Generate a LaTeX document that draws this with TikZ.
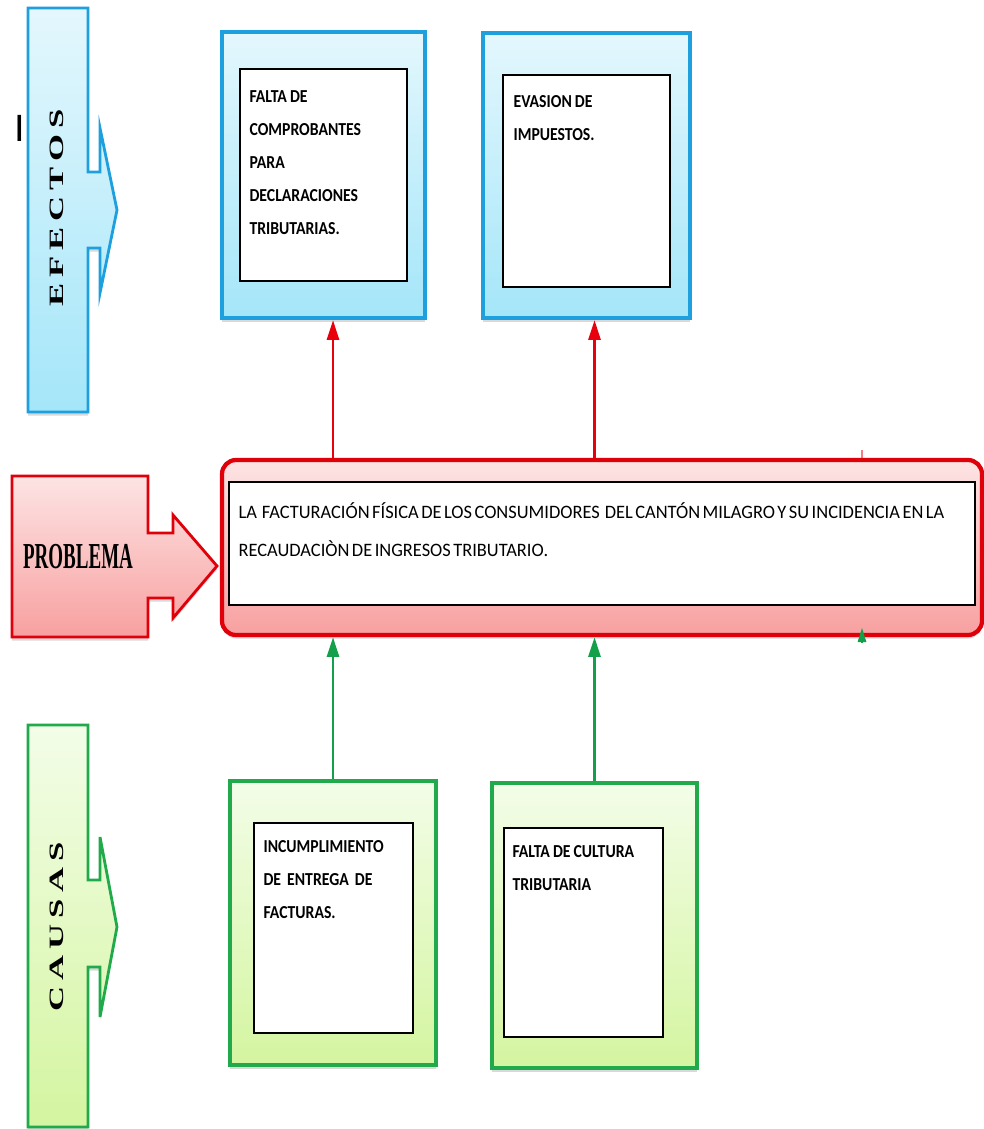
\documentclass[tikz,border=0pt]{standalone}
\usepackage{fontspec}
\usetikzlibrary{arrows.meta,positioning,shadows}
\newfontfamily\boxfont[FakeStretch=0.86,WordSpace=0.85]{Carlito}
\newfontfamily\probtextfont[FakeStretch=0.97,WordSpace=0.6]{Carlito}
\newfontfamily\sidefont[FakeStretch=1.7,LetterSpace=30]{Liberation Serif}
\newfontfamily\probfont[FakeStretch=0.52]{Liberation Serif}
\newfontfamily\markfont{Liberation Sans}
\newcommand{\pxu}{0.025cm}
\definecolor{efline}{RGB}{30,160,222}
\definecolor{eftop}{RGB}{228,247,253}
\definecolor{efbot}{RGB}{164,230,249}
\definecolor{prline}{RGB}{224,0,10}
\definecolor{prtop}{RGB}{253,228,228}
\definecolor{prbot}{RGB}{248,160,160}
\definecolor{caline}{RGB}{32,170,75}
\definecolor{catop}{RGB}{243,253,232}
\definecolor{cabot}{RGB}{212,245,160}
\definecolor{arrred}{RGB}{232,0,12}
\definecolor{arrgreen}{RGB}{20,160,75}

\begin{document}
\begin{tikzpicture}[x = \pxu, y = -\pxu,
    shade/.style = {drop shadow = {opacity = 0.3, shadow xshift = 0pt, shadow yshift = -2.5pt}},
    efbox/.style = {rectangle, draw = efline, line width = 3pt, top color = eftop, bottom color = efbot, inner sep = 0pt, shade},
    cabox/.style = {rectangle, draw = caline, line width = 3pt, top color = catop, bottom color = cabot, inner sep = 0pt, shade},
    prbox/.style = {rectangle, rounded corners = 10pt, draw = prline, line width = 3pt, top color = prtop, bottom color = prbot, inner sep = 0pt, shade},
    inbox/.style = {rectangle, draw = black, line width = 1pt, fill = white, inner sep = 0pt},
    boxtext/.style = {inner sep = 0pt, align = flush left, font = \boxfont\bfseries\fontsize{13}{23.5}\selectfont},
    sidelabel/.style = {inner sep = 0pt, font = \sidefont\bfseries\fontsize{14.5}{14.5}\selectfont},
    redup/.style = {draw = arrred, line width = 2pt, -{Triangle[length = 14pt, width = 8.5pt]}},
    greenup/.style = {draw = arrgreen, line width = 2pt, -{Triangle[length = 14pt, width = 8.5pt]}}]
  \useasboundingbox (0,0) rectangle (984,1129);

  \path[efbox, line width = 2pt] (28,8) -- (88,8) -- (88,172) -- (100,172) -- (100,128) -- (117,210) -- (100,293) -- (100,248) -- (88,248) -- (88,412) -- (28,412) -- cycle;
  \path[prbox, rounded corners = 0pt, line width = 2pt] (12,476) -- (148,476) -- (148,533) -- (173,533) -- (173,515) -- (217,566) -- (173,618) -- (173,598) -- (148,598) -- (148,637) -- (12,637) -- cycle;
  \path[cabox, line width = 2pt] (28,725) -- (88,725) -- (88,880) -- (100,880) -- (100,837) -- (117,927) -- (100,1017) -- (100,967) -- (88,967) -- (88,1127) -- (28,1127) -- cycle;
  \node[sidelabel, rotate = 90] (efectos) at (57,208) {EFECTOS};
  \node[sidelabel, rotate = 90] (causas) at (57,927) {CAUSAS};
  \node[inner sep = 0pt, font = \probfont\bfseries\fontsize{26}{26}\selectfont] (problabel) at (78,557) {PROBLEMA};
  \node[inner sep = 0pt, font = \markfont\fontsize{27}{27}\selectfont] (cursor) at (19.5,128) {I};

  \node[efbox, minimum width = 203*\pxu, minimum height = 286*\pxu] (eff1) at (323.5,175) {};
  \node[inbox, minimum width = 167*\pxu, minimum height = 212*\pxu] (in1) at (eff1.center) {};
  \node[boxtext, anchor = base west, text width = 157*\pxu] (t1) at ([shift = {(10,34)}]in1.north west) {FALTA DE\\COMPROBANTES\\PARA\\DECLARACIONES\\TRIBUTARIAS.};

  \node[efbox, minimum width = 207*\pxu, minimum height = 285*\pxu] (eff2) at (586.5,175.5) {};
  \node[inbox, minimum width = 167*\pxu, minimum height = 212*\pxu] (in2) at (586.5,181) {};
  \node[boxtext, anchor = base west, text width = 157*\pxu] (t2) at ([shift = {(11,33)}]in2.north west) {EVASION DE\\IMPUESTOS.};

  \node[prbox, minimum width = 760*\pxu, minimum height = 175*\pxu] (prob) at (602,547.5) {};
  \node[inbox, minimum width = 746*\pxu, minimum height = 123*\pxu] (inprob) at (602,543.5) {};
  \node[boxtext, font = \probtextfont\fontsize{13.5}{27}\selectfont, anchor = base west, text width = 735*\pxu] (tprob) at ([shift = {(10,37.5)}]inprob.north west) {LA\ \ FACTURACIÓN FÍSICA DE LOS CONSUMIDORES\ \ DEL CANTÓN MILAGRO Y SU INCIDENCIA EN LA\\RECAUDACIÒN DE INGRESOS TRIBUTARIO.};

  \node[cabox, minimum width = 206*\pxu, minimum height = 284*\pxu] (cau1) at (333,923) {};
  \node[inbox, minimum width = 159*\pxu, minimum height = 210*\pxu] (in3) at (333.5,928) {};
  \node[boxtext, anchor = base west, text width = 150*\pxu] (t3) at ([shift = {(10,30)}]in3.north west) {INCUMPLIMIENTO\\DE\ \ ENTREGA\ \ DE\\FACTURAS.};

  \node[cabox, minimum width = 205*\pxu, minimum height = 285*\pxu] (cau2) at (594.5,925.5) {};
  \node[inbox, minimum width = 159*\pxu, minimum height = 209*\pxu] (in4) at (583.5,932.5) {};
  \node[boxtext, anchor = base west, text width = 150*\pxu] (t4) at ([shift = {(9,30)}]in4.north west) {FALTA DE CULTURA\\TRIBUTARIA};

  \draw[redup] (prob.north -| cau1.north) -- (eff1.south -| cau1.north);
  \draw[redup] (prob.north -| cau2.north) -- (eff2.south -| cau2.north);
  \draw[greenup] (cau1.north) -- (prob.south -| cau1.north);
  \draw[greenup] (cau2.north) -- (prob.south -| cau2.north);

  \coordinate (stubg) at (862,643);
  \coordinate (stubt) at (862,628);
  \coordinate (stubr) at (862,450);
  \draw[draw = arrgreen, line width = 1pt, -{Triangle[length = 10pt, width = 6pt]}] (stubg) -- (stubt);
  \draw[draw = arrred, opacity = 0.5, line width = 1pt] (stubr) -- (stubr |- prob.north);
\end{tikzpicture}
\end{document}
